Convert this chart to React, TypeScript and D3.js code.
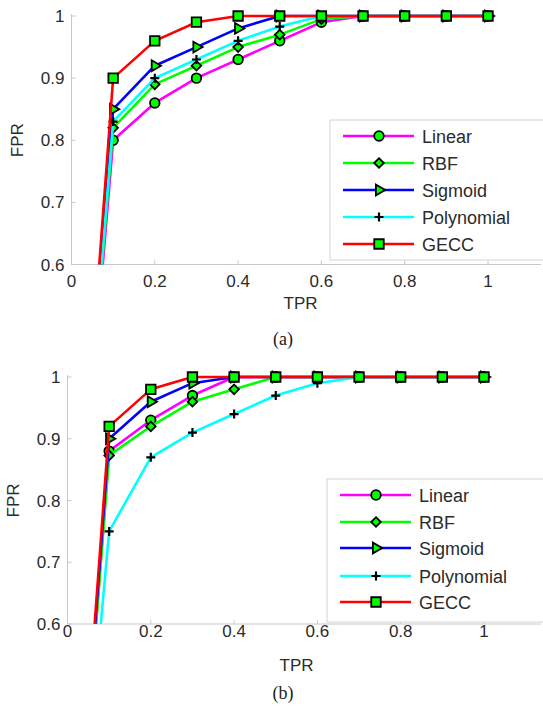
import * as d3 from 'd3'
import React, { useEffect, useRef } from 'react'

// shared x positions (TPR) and series info
const tpr = [0, 0.1, 0.2, 0.3, 0.4, 0.5, 0.6, 0.7, 0.8, 0.9, 1]
const methods = ['Linear', 'RBF', 'Sigmoid', 'Polynomial', 'GECC']
const colors = ['#ff00ff', '#00ff00', '#0000ff', '#00ffff', '#ff0000']
const markerKinds = ['circle', 'diamond', 'triangle', 'plus', 'square']

// panel (a)
const linearA = [0, 0.8, 0.86, 0.9, 0.93, 0.96, 0.99, 1, 1, 1, 1]
const rbfA = [0, 0.82, 0.89, 0.92, 0.95, 0.97, 0.995, 1, 1, 1, 1]
const sigmoidA = [0, 0.85, 0.92, 0.95, 0.98, 1, 1, 1, 1, 1, 1]
const polyA = [0, 0.83, 0.9, 0.93, 0.96, 0.983, 1, 1, 1, 1, 1]
const geccA = [0, 0.9, 0.96, 0.99, 1, 1, 1, 1, 1, 1, 1]

// panel (b)
const linearB = [0, 0.88, 0.93, 0.97, 1, 1, 1, 1, 1, 1, 1]
const rbfB = [0, 0.873, 0.92, 0.96, 0.98, 1, 1, 1, 1, 1, 1]
const sigmoidB = [0, 0.9, 0.96, 0.99, 1, 1, 1, 1, 1, 1, 1]
const polyB = [0, 0.75, 0.87, 0.91, 0.94, 0.97, 0.99, 1, 1, 1, 1]
const geccB = [0, 0.92, 0.98, 1, 1, 1, 1, 1, 1, 1, 1]

const xTicks = [0, 0.2, 0.4, 0.6, 0.8, 1]
const yTicks = [0.6, 0.7, 0.8, 0.9, 1]

const FONT = '"Liberation Sans", Arial, sans-serif'
const TEXT = '#2b2b2b'
const AXIS = '#c8c8c8'

function markerPath(kind: string) {
  if (kind === 'circle') return d3.symbol(d3.symbolCircle, 72)()
  if (kind === 'square') return d3.symbol(d3.symbolSquare, 90)()
  if (kind === 'diamond') return 'M0,-4.8L4.8,0L0,4.8L-4.8,0Z'
  if (kind === 'triangle') return d3.symbol(d3.symbolTriangle, 50)()
  return 'M-4.5,0H4.5M0,-4.5V4.5'
}

function drawMarker(g: any, kind: string, x: number, y: number) {
  const p = g
    .append('path')
    .attr('d', markerPath(kind))
    .attr('transform', `translate(${x},${y})${kind === 'triangle' ? ' rotate(90)' : ''}`)
    .attr('stroke', '#000')
  if (kind === 'plus') {
    p.attr('fill', 'none').attr('stroke-width', 2.2)
  } else {
    p.attr('fill', '#00ff00').attr('stroke-width', 1.8)
  }
}

interface PanelCfg {
  id: string
  x0: number
  x1: number
  yTop: number
  yBottom: number
  series: number[][]
  legendX: number
  legendY: number
  legendH: number
  legendRows: number[]
  tickY: number
  labelY: number
  caption: string
  captionY: number
}

function drawPanel(svg: any, cfg: PanelCfg) {
  const x = d3.scaleLinear().domain([0, 1]).range([cfg.x0, cfg.x1])
  const y = d3.scaleLinear().domain([0.6, 1]).range([cfg.yBottom, cfg.yTop])
  const g = svg.append('g')

  // axes (left + bottom only, light gray, inward ticks)
  g.append('line')
    .attr('x1', cfg.x0).attr('x2', 541)
    .attr('y1', cfg.yBottom).attr('y2', cfg.yBottom)
    .attr('stroke', AXIS)
  g.append('line')
    .attr('x1', cfg.x0).attr('x2', cfg.x0)
    .attr('y1', cfg.yBottom).attr('y2', cfg.yTop - 2)
    .attr('stroke', AXIS)

  xTicks.forEach(t => {
    g.append('line')
      .attr('x1', x(t)).attr('x2', x(t))
      .attr('y1', cfg.yBottom).attr('y2', cfg.yBottom - 4)
      .attr('stroke', AXIS)
    g.append('text')
      .attr('x', x(t)).attr('y', cfg.tickY)
      .attr('text-anchor', 'middle')
      .attr('font-family', FONT).attr('font-size', 17).attr('fill', TEXT)
      .text(d3.format('')(t))
  })
  yTicks.forEach(t => {
    g.append('line')
      .attr('x1', cfg.x0).attr('x2', cfg.x0 + 4)
      .attr('y1', y(t)).attr('y2', y(t))
      .attr('stroke', AXIS)
    g.append('text')
      .attr('x', cfg.x0 - 7).attr('y', y(t) + 6)
      .attr('text-anchor', 'end')
      .attr('font-family', FONT).attr('font-size', 17).attr('fill', TEXT)
      .text(d3.format('')(t))
  })

  g.append('text')
    .attr('x', x(0.55)).attr('y', cfg.labelY)
    .attr('text-anchor', 'middle')
    .attr('font-family', FONT).attr('font-size', 17).attr('fill', TEXT)
    .text('TPR')
  g.append('text')
    .attr('transform', `translate(${cfg.x0 - 49},${(cfg.yTop + cfg.yBottom) / 2}) rotate(-90)`)
    .attr('text-anchor', 'middle')
    .attr('font-family', FONT).attr('font-size', 17).attr('fill', TEXT)
    .text('FPR')

  // caption
  g.append('text')
    .attr('x', 283).attr('y', cfg.captionY)
    .attr('text-anchor', 'middle')
    .attr('font-family', '"Liberation Serif", "Times New Roman", serif')
    .attr('font-size', 18).attr('fill', '#222')
    .text(cfg.caption)

  // clip the curves at the bottom of the plot
  svg.append('clipPath').attr('id', cfg.id)
    .append('rect')
    .attr('x', cfg.x0).attr('y', 0)
    .attr('width', 543 - cfg.x0).attr('height', cfg.yBottom)

  const plot = g.append('g').attr('clip-path', `url(#${cfg.id})`)
  const line = d3.line<number>()
    .x((_, i) => x(tpr[i]))
    .y(d => y(d))

  cfg.series.forEach((vals, si) => {
    plot.append('path')
      .attr('d', line(vals))
      .attr('fill', 'none')
      .attr('stroke', colors[si])
      .attr('stroke-width', 2.6)
      .attr('stroke-linejoin', 'round')
    vals.forEach((v, i) => {
      if (tpr[i] === 0) return
      drawMarker(plot, markerKinds[si], x(tpr[i]), y(v))
    })
  })

  // legend
  const lg = g.append('g')
  lg.append('rect')
    .attr('x', cfg.legendX).attr('y', cfg.legendY)
    .attr('width', 560 - cfg.legendX).attr('height', cfg.legendH)
    .attr('fill', '#fff').attr('stroke', '#d4d4d4')
  methods.forEach((m, i) => {
    const ry = cfg.legendRows[i]
    const lx = cfg.legendX + 13
    lg.append('line')
      .attr('x1', lx).attr('x2', lx + 71)
      .attr('y1', ry).attr('y2', ry)
      .attr('stroke', colors[i]).attr('stroke-width', 2.6)
    drawMarker(lg, markerKinds[i], lx + 36, ry)
    lg.append('text')
      .attr('x', lx + 79).attr('y', ry + 6.5)
      .attr('font-family', FONT).attr('font-size', 18).attr('fill', TEXT)
      .text(m)
  })
}

export default function App() {
  const ref = useRef<SVGSVGElement>(null)

  useEffect(() => {
    const svg = d3.select(ref.current)
    svg.selectAll('*').remove()

    drawPanel(svg, {
      id: 'clipA',
      x0: 71.5,
      x1: 488,
      yTop: 16,
      yBottom: 264.5,
      series: [linearA, rbfA, sigmoidA, polyA, geccA],
      legendX: 330,
      legendY: 120,
      legendH: 140,
      legendRows: [136, 163, 190, 217, 244],
      tickY: 287,
      labelY: 309,
      caption: '(a)',
      captionY: 345
    })

    drawPanel(svg, {
      id: 'clipB',
      x0: 67.5,
      x1: 484,
      yTop: 377,
      yBottom: 624,
      series: [linearB, rbfB, sigmoidB, polyB, geccB],
      legendX: 327,
      legendY: 479,
      legendH: 143,
      legendRows: [495, 522, 548, 576, 602],
      tickY: 637,
      labelY: 671,
      caption: '(b)',
      captionY: 699
    })
  }, [ref])

  return (
    <svg
      ref={ref}
      width="543"
      height="707"
      style={{ position: 'absolute', left: 0, top: 0, background: '#fff' }}
    />
  )
}
